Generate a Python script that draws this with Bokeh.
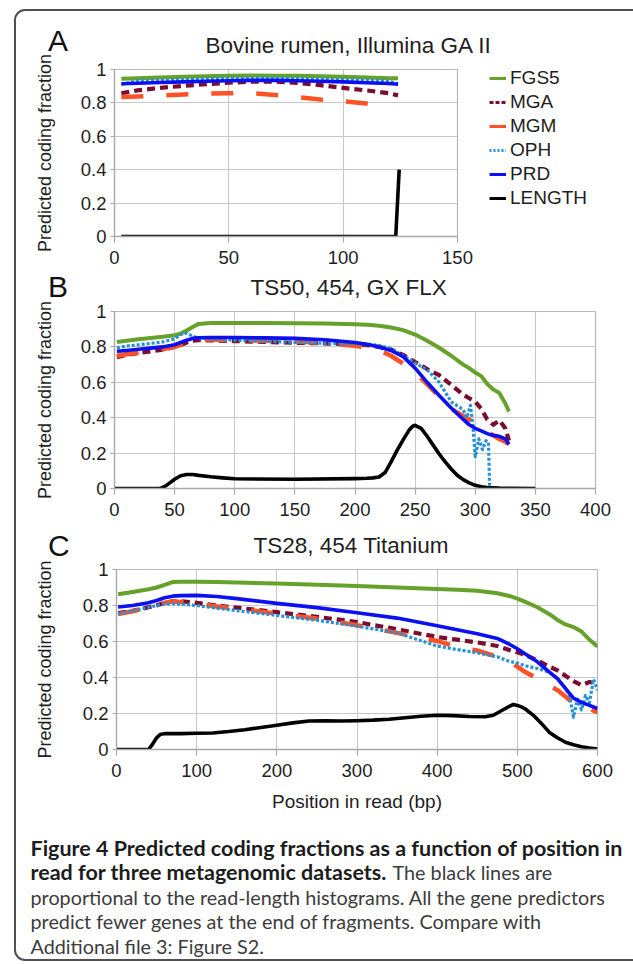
from bokeh.plotting import figure
from bokeh.models import Range1d, FixedTicker, Legend, LegendItem, Div
from bokeh.embed import file_html
from bokeh.resources import INLINE
from bokeh.core.properties import value

# ---------------- data ----------------
series_names = ["FGS5", "MGA", "MGM", "OPH", "PRD", "LENGTH"]
y_ticks = [0, 0.2, 0.4, 0.6, 0.8, 1]
y_tick_labels = ["0", "0.2", "0.4", "0.6", "0.8", "1"]

# Panel A : Bovine rumen, Illumina GA II
a_title = "Bovine rumen, Illumina GA II"
a_x_ticks = [0, 50, 100, 150]
a_x = [3, 10, 20, 30, 40, 50, 60, 70, 80, 90, 100, 110, 120, 124]
a_fgs5 = [0.945, 0.948, 0.952, 0.956, 0.96, 0.962, 0.964, 0.963, 0.962, 0.959, 0.956, 0.952, 0.948, 0.947]
a_mga = [0.858, 0.875, 0.89, 0.902, 0.912, 0.921, 0.927, 0.928, 0.92, 0.906, 0.89, 0.875, 0.858, 0.845]
a_oph = [0.91, 0.932, 0.936, 0.94, 0.944, 0.947, 0.948, 0.948, 0.946, 0.943, 0.94, 0.935, 0.93, 0.915]
a_prd = [0.915, 0.918, 0.922, 0.926, 0.93, 0.933, 0.935, 0.935, 0.933, 0.93, 0.926, 0.921, 0.916, 0.912]
a_mgm_x = [3, 10, 20, 30, 40, 50, 60, 70, 80, 90, 100, 110, 115]
a_mgm = [0.835, 0.838, 0.845, 0.85, 0.855, 0.858, 0.858, 0.848, 0.835, 0.82, 0.81, 0.797, 0.788]
a_len_x = [3, 123, 124.5]
a_len = [0, 0, 0.4]

# Panel B : TS50, 454, GX FLX
b_title = "TS50, 454, GX FLX"
b_x_ticks = [0, 50, 100, 150, 200, 250, 300, 350, 400]
b_x = [2, 10, 20, 30, 40, 50, 55, 60, 65, 70, 80, 100, 125, 150, 175, 200, 210, 220, 230,
       240, 250, 260, 270, 280, 290, 295, 300, 305, 310, 315, 320, 325, 328]
b_fgs5 = [0.828, 0.835, 0.843, 0.85, 0.857, 0.866, 0.875, 0.893, 0.912, 0.93, 0.935, 0.935, 0.935,
          0.934, 0.932, 0.928, 0.925, 0.92, 0.91, 0.895, 0.87, 0.835, 0.795, 0.75, 0.70, 0.68,
          0.655, 0.635, 0.59, 0.56, 0.54, 0.48, 0.435]
b_mga = [0.742, 0.755, 0.765, 0.775, 0.785, 0.8, 0.81, 0.825, 0.835, 0.838, 0.837, 0.833, 0.828,
         0.823, 0.82, 0.815, 0.81, 0.80, 0.785, 0.755, 0.715, 0.675, 0.64, 0.585, 0.53, 0.51,
         0.49, 0.45, 0.39, 0.36, 0.385, 0.34, 0.27]
b_mgm = [0.75, 0.758, 0.768, 0.777, 0.787, 0.80, 0.812, 0.828, 0.84, 0.843, 0.842, 0.838, 0.835,
         0.83, 0.822, 0.806, 0.795, 0.78, 0.75, 0.705, 0.655, 0.59, 0.52, 0.45, 0.41, 0.39,
         0.36, 0.345, 0.32, 0.30, 0.28, 0.265, 0.25]
b_prd = [0.775, 0.78, 0.787, 0.793, 0.80, 0.812, 0.825, 0.838, 0.848, 0.852, 0.853, 0.853, 0.851,
         0.848, 0.84, 0.825, 0.815, 0.80, 0.78, 0.745, 0.68, 0.60, 0.525, 0.455, 0.39, 0.36,
         0.34, 0.325, 0.31, 0.30, 0.295, 0.28, 0.25]
b_oph_x = [2, 10, 20, 30, 40, 50, 55, 60, 65, 70, 80, 100, 125, 150, 175, 200, 210, 220, 230,
           240, 250, 260, 270, 280, 290, 293, 296, 298, 300, 303, 306, 309, 311, 312, 327]
b_oph = [0.795, 0.805, 0.812, 0.82, 0.828, 0.845, 0.87, 0.878, 0.86, 0.85, 0.845, 0.838, 0.832,
         0.826, 0.82, 0.818, 0.815, 0.808, 0.79, 0.75, 0.71, 0.67, 0.60, 0.49, 0.445, 0.40,
         0.47, 0.36, 0.18, 0.28, 0.22, 0.27, 0.26, 0.0, 0.0]
b_len_x = [0, 38, 42, 46, 50, 55, 60, 65, 70, 80, 90, 100, 150, 200, 210, 215, 220, 225, 230,
           235, 240, 245, 248, 250, 255, 260, 265, 270, 275, 280, 285, 290, 295, 300, 305, 310,
           320, 330, 350]
b_len = [0, 0, 0.012, 0.032, 0.052, 0.072, 0.079, 0.079, 0.074, 0.066, 0.06, 0.055, 0.052, 0.056,
         0.058, 0.06, 0.065, 0.09, 0.15, 0.215, 0.275, 0.33, 0.352, 0.357, 0.34, 0.295, 0.245,
         0.195, 0.15, 0.11, 0.075, 0.05, 0.032, 0.018, 0.01, 0.005, 0.002, 0.001, 0.0]

# Panel C : TS28, 454 Titanium
c_title = "TS28, 454 Titanium"
c_x_ticks = [0, 100, 200, 300, 400, 500, 600]
c_x_label = "Position in read (bp)"
c_x = [2, 20, 40, 50, 60, 70, 80, 100, 125, 150, 200, 250, 300, 350, 400, 425, 450, 475, 490,
       500, 510, 525, 540, 550, 560, 570, 580, 590, 600]
c_fgs5 = [0.862, 0.875, 0.89, 0.9, 0.915, 0.93, 0.932, 0.932, 0.93, 0.928, 0.922, 0.915, 0.908,
          0.9, 0.892, 0.888, 0.882, 0.868, 0.853, 0.838, 0.82, 0.79, 0.752, 0.72, 0.695, 0.68,
          0.655, 0.61, 0.572]
c_mga = [0.758, 0.77, 0.79, 0.80, 0.815, 0.823, 0.823, 0.815, 0.8, 0.788, 0.763, 0.737, 0.708,
         0.668, 0.625, 0.61, 0.595, 0.575, 0.553, 0.54, 0.525, 0.495, 0.46, 0.44, 0.41, 0.38,
         0.358, 0.375, 0.365]
c_mgm = [0.752, 0.768, 0.788, 0.80, 0.815, 0.822, 0.82, 0.81, 0.795, 0.782, 0.755, 0.728, 0.69,
         0.648, 0.603, 0.568, 0.55, 0.515, 0.49, 0.46, 0.43, 0.395, 0.355, 0.33, 0.295, 0.255,
         0.24, 0.228, 0.205]
c_prd = [0.792, 0.80, 0.815, 0.828, 0.843, 0.852, 0.855, 0.856, 0.85, 0.838, 0.812, 0.788, 0.76,
         0.73, 0.688, 0.665, 0.643, 0.617, 0.585, 0.56, 0.53, 0.487, 0.43, 0.394, 0.34, 0.285,
         0.262, 0.245, 0.228]
c_oph_x = [2, 20, 40, 50, 60, 70, 80, 100, 125, 150, 200, 250, 300, 350, 400, 425, 450, 475, 490,
           500, 510, 525, 540, 550, 560, 565, 570, 575, 580, 585, 590, 595, 600]
c_oph = [0.752, 0.77, 0.79, 0.80, 0.808, 0.81, 0.808, 0.80, 0.785, 0.772, 0.745, 0.718, 0.685,
         0.648, 0.575, 0.555, 0.537, 0.515, 0.49, 0.48, 0.465, 0.45, 0.43, 0.395, 0.34, 0.30,
         0.18, 0.28, 0.22, 0.30, 0.26, 0.39, 0.33]
c_len_x = [0, 40, 45, 50, 55, 60, 80, 100, 120, 140, 160, 180, 200, 220, 240, 260, 280, 300, 320,
           340, 360, 380, 400, 420, 440, 460, 470, 480, 490, 495, 500, 505, 510, 520, 530, 540,
           550, 560, 570, 580, 590, 600]
c_len = [0, 0, 0.03, 0.065, 0.085, 0.088, 0.088, 0.09, 0.092, 0.1, 0.11, 0.122, 0.135, 0.148,
         0.158, 0.16, 0.158, 0.16, 0.163, 0.168, 0.176, 0.185, 0.19, 0.188, 0.183, 0.182, 0.19,
         0.215, 0.24, 0.25, 0.245, 0.237, 0.225, 0.19, 0.145, 0.095, 0.065, 0.04, 0.026, 0.015,
         0.008, 0.003]

y_label = "Predicted coding fraction"
panel_letters = ["A", "B", "C"]

caption_line1 = "Figure 4 Predicted coding fractions as a function of position in"
caption_line2_bold = "read for three metagenomic datasets."
caption_line2_rest = "The black lines are"
caption_rest_lines = [
    "proportional to the read-length histograms. All the gene predictors",
    "predict fewer genes at the end of fragments. Compare with",
    "Additional file 3: Figure S2.",
]

# ---------------- styles ----------------
FONT = "Liberation Sans"
CAP_FONT = "Lato"
styles = {
    "FGS5": dict(color="#66a22b", width=4, dash="solid"),
    "MGA": dict(color="#7c0c2f", width=4.2, dash="8 5"),
    "MGM": dict(color="#ff5123", width=4.5, dash="22 23"),
    "OPH": dict(color="#2391d8", width=3.2, dash="3 2"),
    "PRD": dict(color="#0a10f2", width=3.6, dash="solid"),
    "LENGTH": dict(color="#000000", width=3.6, dash="solid"),
}
legend_dash = {"FGS5": "solid", "MGA": "4 2", "MGM": "solid", "OPH": "2 2", "PRD": "solid",
               "LENGTH": "solid"}
W = 617


def place(left, top):
    return {"position": "absolute", "left": f"{left}px", "top": f"{top}px"}


def make_panel(top, h, ml, mr, mt, mb, xmax, xticks, ylab_standoff, title, title_offset):
    p = figure(width=W, height=h, x_range=Range1d(0, xmax), y_range=Range1d(0, 1),
               output_backend="svg", toolbar_location=None, margin=0, styles=place(16, top),
               min_border_left=ml, min_border_right=mr, min_border_top=mt, min_border_bottom=mb)
    p.background_fill_color = "white"
    p.border_fill_color = None
    p.outline_line_color = "#b8b8b8"
    p.outline_line_width = 1.2
    p.title.text = title
    p.title.align = "left"
    p.title.offset = title_offset
    p.title.standoff = 24
    p.title.text_font = FONT
    p.title.text_font_size = "22.5px"
    p.title.text_font_style = "normal"
    p.title.text_color = "#1e1e1e"
    p.xaxis.ticker = FixedTicker(ticks=xticks)
    p.yaxis.ticker = FixedTicker(ticks=y_ticks)
    p.yaxis.major_label_overrides = {t: s for t, s in zip(y_ticks, y_tick_labels)}
    p.xgrid.ticker = FixedTicker(ticks=xticks)
    p.ygrid.ticker = FixedTicker(ticks=y_ticks)
    for g in (p.xgrid[0], p.ygrid[0]):
        g.grid_line_color = "#c8c8c8"
        g.grid_line_width = 1.1
    for ax in (p.xaxis[0], p.yaxis[0]):
        ax.axis_line_color = "#a8a8a8"
        ax.axis_line_width = 1.3
        ax.major_tick_line_color = "#a8a8a8"
        ax.major_tick_line_width = 1.2
        ax.minor_tick_line_color = None
        ax.major_tick_in = 0
        ax.major_label_text_font = FONT
        ax.major_label_text_font_size = "18.5px"
        ax.major_label_text_color = "#1e1e1e"
        ax.axis_label_text_font = FONT
        ax.axis_label_text_font_style = "normal"
        ax.axis_label_text_color = "#1e1e1e"
    p.xaxis.major_tick_out = 6
    p.xaxis.major_label_standoff = 8
    p.yaxis.major_tick_out = 4
    p.yaxis.major_label_standoff = 4
    p.yaxis.axis_label = y_label
    p.yaxis.axis_label_text_font_size = "18px"
    p.yaxis.axis_label_standoff = ylab_standoff
    return p


def add_series(p, name, xs, ys, width=None, dash=None):
    s = styles[name]
    return p.line(x=xs, y=ys, line_color=s["color"], line_width=width or s["width"],
                  line_dash=dash or s["dash"], line_cap="butt", line_join="round")


def letter_div(letter, left, top):
    st = place(left, top)
    st.update({"font-family": FONT, "font-size": "30px", "line-height": "1", "color": "#111111"})
    return Div(text=letter, margin=0, styles=st)


# ---- Panel A ----  frame page y 69..236
pa = make_panel(8, 264, 98, 176, 61, 36, 150, a_x_ticks, 23, a_title, 91)
a_series = {"FGS5": (a_x, a_fgs5), "MGA": (a_x, a_mga), "MGM": (a_mgm_x, a_mgm),
            "OPH": (a_x, a_oph), "PRD": (a_x, a_prd), "LENGTH": (a_len_x, a_len)}
for n in series_names:
    add_series(pa, n, *a_series[n])

# legend of panel A (sits right of its plot area); its lines reuse panel A's data,
# kept outside this small figure's visible range so only the legend samples show
lg = figure(width=135, height=142, x_range=Range1d(1000, 1001), y_range=Range1d(0, 1),
            output_backend="svg", toolbar_location=None, margin=0, styles=place(489, 67),
            min_border_left=0, min_border_right=0, min_border_top=0, min_border_bottom=0)
lg.axis.visible = False
lg.grid.visible = False
lg.outline_line_color = None
lg.background_fill_color = None
lg.border_fill_color = None
lg_items = []
for n in series_names:
    r = add_series(lg, n, *a_series[n], width=3.0, dash=legend_dash[n])
    lg_items.append(LegendItem(label=n, renderers=[r]))
lg.add_layout(Legend(items=lg_items, location="top_left", padding=0, margin=0, spacing=2,
                     glyph_width=17, glyph_height=20, label_height=20, label_standoff=4,
                     label_text_font=FONT, label_text_font_size="19px",
                     label_text_color="#1e1e1e", border_line_alpha=0, background_fill_alpha=0))

# ---- Panel B ----  frame page y 311..488
pb = make_panel(255, 272, 98, 38, 56, 39, 400, b_x_ticks, 23, b_title, 136)
add_series(pb, "FGS5", b_x, b_fgs5)
add_series(pb, "MGA", b_x, b_mga)
add_series(pb, "MGM", b_x, b_mgm)
add_series(pb, "OPH", b_oph_x, b_oph)
add_series(pb, "PRD", b_x, b_prd)
add_series(pb, "LENGTH", b_len_x, b_len)

# ---- Panel C ----  frame page y 569..749
pc = make_panel(513, 309, 100, 36, 56, 73, 600, c_x_ticks, 25, c_title, 137)
add_series(pc, "FGS5", c_x, c_fgs5)
add_series(pc, "MGA", c_x, c_mga)
add_series(pc, "MGM", c_x, c_mgm)
add_series(pc, "OPH", c_oph_x, c_oph)
add_series(pc, "PRD", c_x, c_prd)
add_series(pc, "LENGTH", c_len_x, c_len)
pc.xaxis.axis_label = c_x_label
pc.xaxis.axis_label_text_font_size = "19px"
pc.xaxis.axis_label_standoff = 11

# ---- Caption ----  page y 822..963
CAP_H = 141
cap = figure(width=W, height=CAP_H, x_range=Range1d(0, W), y_range=Range1d(CAP_H, 0),
             output_backend="svg", toolbar_location=None, margin=0, styles=place(16, 822),
             min_border_left=0, min_border_right=0, min_border_top=0, min_border_bottom=0)
cap.axis.visible = False
cap.grid.visible = False
cap.outline_line_color = None
cap.background_fill_color = None
cap.border_fill_color = None
cap_x0 = 14
cap_y0 = 25
cap_dy = 24.5
cap.text(x=[cap_x0, cap_x0], y=[cap_y0, cap_y0 + cap_dy], text=[caption_line1, caption_line2_bold],
         text_font=value(CAP_FONT), text_font_style="bold", text_font_size="21.5px",
         text_baseline="alphabetic", text_color="#1c1c1c")
cap.text(x=[376], y=[cap_y0 + cap_dy], text=[caption_line2_rest],
         text_font=value(CAP_FONT), text_font_size="19.8px",
         text_baseline="alphabetic", text_color="#3c3c3c")
cap.text(x=[cap_x0] * len(caption_rest_lines),
         y=[cap_y0 + cap_dy * (i + 2) for i in range(len(caption_rest_lines))],
         text=caption_rest_lines,
         text_font=value(CAP_FONT), text_font_size="19.8px",
         text_baseline="alphabetic", text_color="#3c3c3c")

# ---- panel letters and outer frame ----
la = letter_div(panel_letters[0], 48, 26)
lb = letter_div(panel_letters[1], 48, 272)
lc = letter_div(panel_letters[2], 48, 531)
frame_st = place(14, 9)
frame_st.update({"width": "619px", "height": "952px", "box-sizing": "border-box",
                 "border": "2px solid #505050", "border-right": "none",
                 "border-radius": "11px 0 0 11px", "pointer-events": "none"})
frame = Div(text="", margin=0, styles=frame_st)

open("out.html", "w").write(file_html([pa, pb, pc, cap, lg, la, lb, lc, frame], INLINE))
